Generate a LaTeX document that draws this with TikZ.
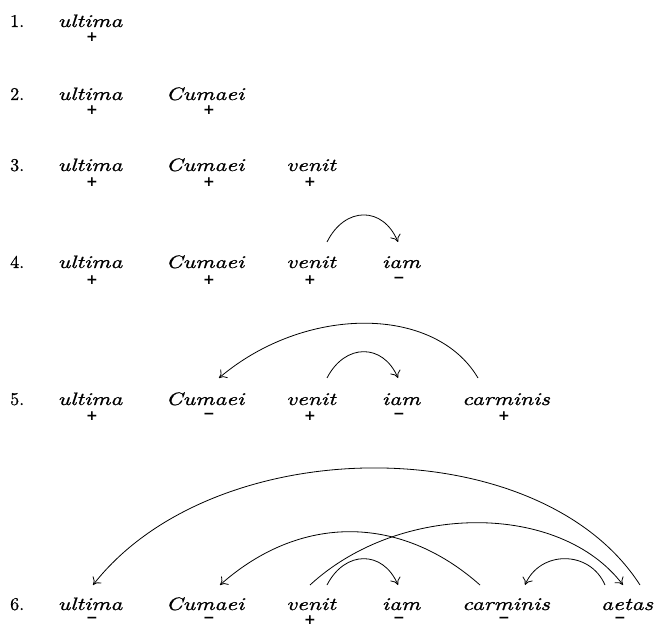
\documentclass[tikz,border=0pt]{standalone}
\usepackage{fontspec}
\usetikzlibrary{arrows.meta}
\newfontfamily\latf{lmroman10-italic}[Extension=.otf, FakeStretch=1.3, FakeBold=1]
\newfontfamily\numf{lmroman10-regular}[Extension=.otf, FakeBold=0.8]
\newfontfamily\sgnf{DejaVu Sans}
\begin{document}
\begin{tikzpicture}[x=1pt,y=-1pt,
  word/.style={anchor=base, inner sep=0pt, font=\latf\fontsize{18}{20}\selectfont},
  num/.style={anchor=base west, inner sep=0pt, font=\numf\fontsize{18}{20}\selectfont},
  sgn/.style={inner sep=0pt, font=\sgnf\bfseries\fontsize{14}{16}\selectfont},
  arc/.style={line width=0.8pt, -{To[length=7pt,width=11pt]}}]
\useasboundingbox (0,0) rectangle (656,628);
% row 1
\node[num] (n1) at (10,27) {1.};
\node[word] (w11) at (90,27) {ultima};
\node[sgn] (s11) at (92,37) {+};
% row 2
\node[num] (n2) at (10,100) {2.};
\node[word] (w21) at (90,100) {ultima};
\node[word] (w22) at (205,100) {Cumaei};
\node[sgn] (s21) at (92,110) {+};
\node[sgn] (s22) at (209,110) {+};
% row 3
\node[num] (n3) at (10,171) {3.};
\node[word] (w31) at (90,171) {ultima};
\node[word] (w32) at (205,171) {Cumaei};
\node[word] (w33) at (311,171) {venit};
\node[sgn] (s31) at (92,182) {+};
\node[sgn] (s32) at (209,182) {+};
\node[sgn] (s33) at (310,182) {+};
% row 4
\node[num] (n4) at (10,268) {4.};
\node[word] (w41) at (90,268) {ultima};
\node[word] (w42) at (205,268) {Cumaei};
\node[word] (w43) at (311,268) {venit};
\node[word] (w44) at (401,268) {iam};
\node[sgn] (s41) at (92,280) {+};
\node[sgn] (s42) at (209,280) {+};
\node[sgn] (s43) at (310,280) {+};
\node[sgn] (s44) at (399,280) {−};
% row 5
\node[num] (n5) at (10,405) {5.};
\node[word] (w51) at (90,405) {ultima};
\node[word] (w52) at (205,405) {Cumaei};
\node[word] (w53) at (311,405) {venit};
\node[word] (w54) at (401,405) {iam};
\node[word] (w55) at (506,405) {carminis};
\node[sgn] (s51) at (92,416) {+};
\node[sgn] (s52) at (209,416) {−};
\node[sgn] (s53) at (310,416) {+};
\node[sgn] (s54) at (399,416) {−};
\node[sgn] (s55) at (504,416) {+};
% row 6
\node[num] (n6) at (10,610) {6.};
\node[word] (w61) at (90,610) {ultima};
\node[word] (w62) at (205,610) {Cumaei};
\node[word] (w63) at (311,610) {venit};
\node[word] (w64) at (401,610) {iam};
\node[word] (w65) at (506,610) {carminis};
\node[word] (w66) at (627,610) {aetas};
\node[sgn] (s61) at (92,620) {−};
\node[sgn] (s62) at (209,620) {−};
\node[sgn] (s63) at (310,620) {+};
\node[sgn] (s64) at (399,620) {−};
\node[sgn] (s65) at (504,620) {−};
\node[sgn] (s66) at (620,620) {−};
% arc end points
\coordinate (a4s) at (327,242); \coordinate (a4e) at (398,242);
\coordinate (b5s) at (478,378); \coordinate (b5e) at (219,378);
\coordinate (a5s) at (327,378); \coordinate (a5e) at (398,378);
\coordinate (c6s) at (640,585); \coordinate (c6e) at (93,585);
\coordinate (d6s) at (480,585); \coordinate (d6e) at (220,585);
\coordinate (e6s) at (310,585); \coordinate (e6e) at (623,585);
\coordinate (f6s) at (327,585); \coordinate (f6e) at (398,585);
\coordinate (g6s) at (605,585); \coordinate (g6e) at (525,585);
% arcs
\draw[arc] (a4s) .. controls (345,206) and (383,206) .. (a4e);
\draw[arc] (b5s) .. controls (435,305) and (305,305) .. (b5e);
\draw[arc] (a5s) .. controls (345,343) and (383,343) .. (a5e);
\draw[arc] (c6s) .. controls (540,429) and (215,429) .. (c6e);
\draw[arc] (d6s) .. controls (400,514) and (300,514) .. (d6e);
\draw[arc] (e6s) .. controls (400,502) and (560,502) .. (e6e);
\draw[arc] (f6s) .. controls (345,550) and (383,550) .. (f6e);
\draw[arc] (g6s) .. controls (590,550) and (540,550) .. (g6e);
\end{tikzpicture}
\end{document}
